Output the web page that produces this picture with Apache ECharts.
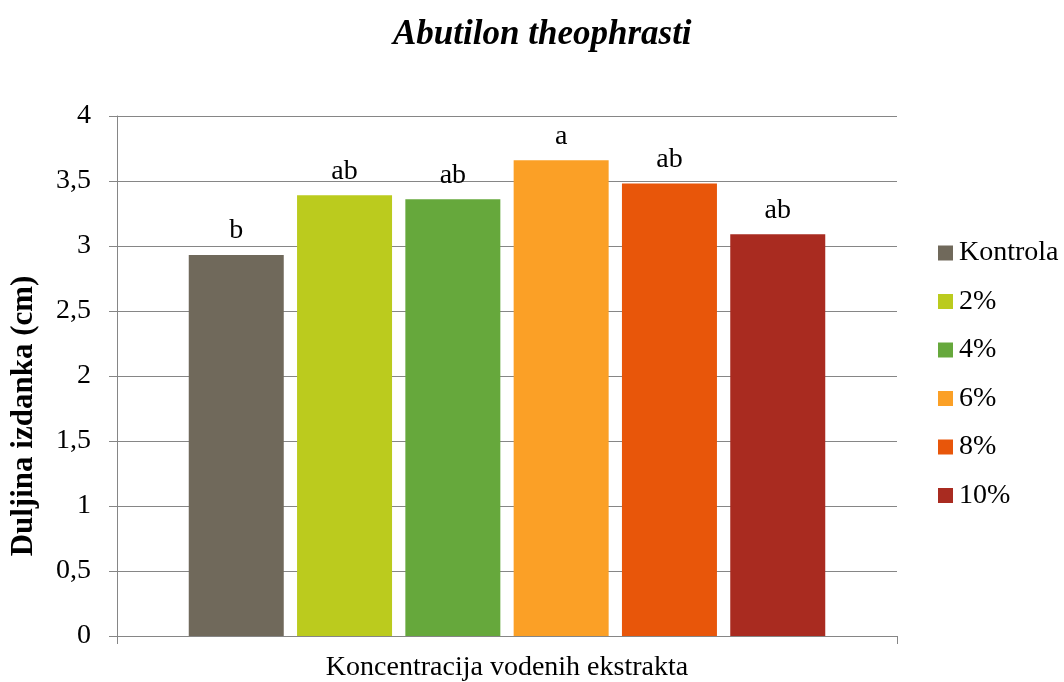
<!DOCTYPE html>
<html>
<head>
<meta charset="utf-8">
<script src="https://cdn.jsdelivr.net/npm/echarts@6/dist/echarts.min.js"></script>
<style>
html,body{margin:0;padding:0;background:#fff;}
#chart{width:1064px;height:682px;}
</style>
</head>
<body>
<div id="chart"></div>
<script>
var myChart = echarts.init(document.getElementById('chart'));

//类别与数据
var categories = ['Koncentracija vodenih ekstrakta'];
var seriesNames = ['Kontrola', '2%', '4%', '6%', '8%', '10%'];
var values = [2.93, 3.39, 3.36, 3.66, 3.48, 3.09];
var letters = ['b', 'ab', 'ab', 'a', 'ab', 'ab'];
var colors = ['#70695b', '#bbcb1e', '#66a83c', '#fba026', '#e8560a', '#a92b20'];

var font = 'Liberation Serif';

var series = [];
for (let i = 0; i < seriesNames.length; i++) {
    series.push({
        name: seriesNames[i],
        type: 'bar',
        barWidth: 95,
        barGap: '14%',
        data: [values[i]],
        itemStyle: { color: colors[i] },
        label: {
            show: true,
            position: 'top',
            distance: 10,
            formatter: letters[i],
            fontFamily: font,
            fontSize: 28,
            color: '#000'
        }
    });
}

var option = {
    backgroundColor: '#fff',
    animation: false,
    title: {
        text: 'Abutilon theophrasti',
        left: 388,
        top: 12,
        textStyle: {
            fontFamily: font,
            fontSize: 35,
            fontWeight: 'bold',
            fontStyle: 'italic',
            color: '#000'
        }
    },
    legend: {
        orient: 'vertical',
        left: 933,
        top: 234,
        itemWidth: 15,
        itemHeight: 15,
        itemGap: 20.5,
        icon: 'rect',
        data: seriesNames,
        textStyle: { fontFamily: font, fontSize: 28, lineHeight: 28, color: '#000', padding: [0, 0, 0, 1] }
    },
    grid: { left: 117, right: 167, top: 116, bottom: 46, containLabel: false },
    xAxis: {
        type: 'category',
        data: categories,
        axisLine: { lineStyle: { color: '#868686', width: 1 } },
        axisTick: { show: true, length: 8, lineStyle: { color: '#868686' } },
        axisLabel: { fontFamily: font, fontSize: 28, color: '#000', margin: 18 }
    },
    yAxis: {
        type: 'value',
        min: 0,
        max: 4,
        interval: 0.5,
        name: 'Duljina izdanka (cm)',
        nameLocation: 'middle',
        nameGap: 78,
        nameTextStyle: { fontFamily: font, fontSize: 31, fontWeight: 'bold', color: '#000', padding: [0, 80, 0, 0] },
        axisLine: { show: true, lineStyle: { color: '#868686' } },
        axisTick: { show: true, length: 8, inside: false, lineStyle: { color: '#868686' } },
        splitLine: { lineStyle: { color: '#868686', width: 1 } },
        axisLabel: {
            fontFamily: font,
            fontSize: 28,
            color: '#000',
            margin: 26,
            formatter: function (v) { return String(v).replace('.', ','); }
        }
    },
    series: series
};
myChart.setOption(option);
</script>
</body>
</html>
